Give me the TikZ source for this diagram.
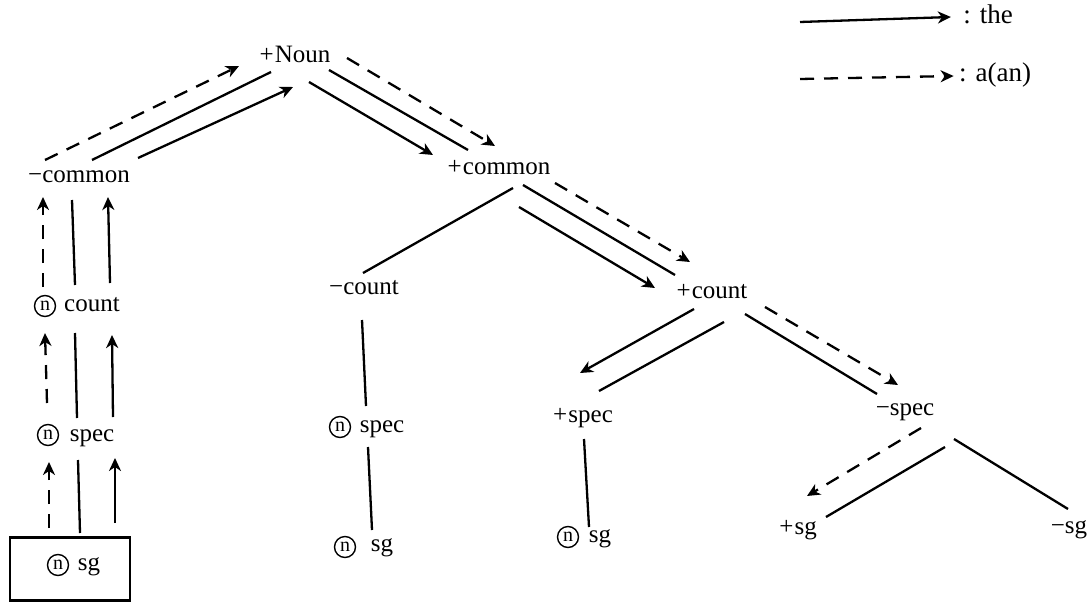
\documentclass[tikz,border=0pt]{standalone}
\usepackage{fontspec}
\setmainfont{Liberation Serif}
\usetikzlibrary{arrows.meta}
\tikzset{
  lab/.style={inner sep=1pt, text height=8.5pt, text depth=2.5pt, font=\fontsize{12.5}{14}\selectfont},
  leglab/.style={lab, font=\fontsize{13.5}{15}\selectfont},
  cn/.style={circle, draw, line width=0.7pt, inner sep=0pt, minimum size=10.5pt, font=\fontsize{10}{10}\selectfont},
  tie/.style={line width=1.15pt},
  the/.style={tie, -{Stealth[length=6.5pt,width=6pt,inset=2pt]}},
  aan/.style={the, dash pattern=on 7pt off 5pt},
  boxed/.style={draw, line width=1.1pt, minimum width=60pt, minimum height=31.5pt, inner sep=0pt}
}
\begin{document}
\begin{tikzpicture}[x=0.5pt,y=-0.5pt]
\useasboundingbox (0,0) rectangle (1090,604);
% tree labels
\node[lab] (N)  at (295,57)  {+\kern0.6pt Noun};
\node[lab] (L)  at (79,177)  {−common};
\node[lab] (P)  at (499,169) {+\kern0.6pt common};
\node[lab] (M)  at (364,288) {−count};
\node[lab] (C)  at (712,292) {+\kern0.6pt count};
\node[lab] (LC) at (92,305)  {count};
\node[cn]  (lc0) at (45,306) {n};
\node[lab] (LS) at (92,435)  {spec};
\node[cn]  (ls0) at (48,435) {n};
\node[boxed] (B) at (70,569) {};
\node[lab] (LG) at (89,564)  {sg};
\node[cn]  (lg0) at (58,565) {n};
\node[lab] (MS) at (382,426) {spec};
\node[cn]  (ms0) at (340,427) {n};
\node[lab] (MG) at (382,545) {sg};
\node[cn]  (mg0) at (345,547) {n};
\node[lab] (PS) at (583,416) {+\kern0.6pt spec};
\node[lab] (PG) at (600,536) {sg};
\node[cn]  (pg0) at (568,537) {n};
\node[lab] (RS) at (905,409) {−spec};
\node[lab] (RP) at (798,528) {+\kern0.6pt sg};
\node[lab] (RM) at (1069,527) {−sg};
% legend
\node[leglab] (leg1) at (988,18) {: the};
\node[leglab] (leg2) at (995,76) {: a(an)};
\coordinate (s1) at (800,22);
\coordinate (s2) at (800,79);
\draw[the] (s1) -- ([shift={(-10,-1)}]leg1.west);
\draw[aan] (s2) -- ([shift={(-3,0)}]leg2.west);
% -common <-> +Noun
\draw[aan] ([shift={(-34,-17)}]L.center) -- ([shift={(-56,9)}]N.center);
\draw[tie] ([shift={(13,-17)}]L.center) -- ([shift={(-24,15)}]N.center);
\draw[the] ([shift={(59,-19)}]L.center) -- ([shift={(-2,30)}]N.center);
% +Noun -> +common
\draw[the] ([shift={(14,25)}]N.center) -- ([shift={(-66,-14)}]P.center);
\draw[tie] ([shift={(34,13)}]N.center) -- ([shift={(-31,-19)}]P.center);
\draw[aan] ([shift={(52,1)}]N.center) -- ([shift={(-4,-23)}]P.center);
% +common
\draw[tie] ([shift={(14,19)}]P.center) -- ([shift={(-1,-15)}]M.center);
\draw[tie] ([shift={(24,16)}]P.center) -- ([shift={(-37,-17)}]C.center);
\draw[the] ([shift={(20,38)}]P.center) -- ([shift={(-57,-4)}]C.center);
\draw[aan] ([shift={(56,14)}]P.center) -- ([shift={(-22,-30)}]C.center);
% +count
\draw[the] ([shift={(-18,17)}]C.center) -- ([shift={(-3,-43)}]PS.center);
\draw[tie] ([shift={(12,30)}]C.center) -- ([shift={(16,-25)}]PS.center);
\draw[tie] ([shift={(33,22)}]C.center) -- ([shift={(-28,-15)}]RS.center);
\draw[aan] ([shift={(53,15)}]C.center) -- ([shift={(-7,-24)}]RS.center);
% +spec, -spec
\draw[tie] ([shift={(1,23)}]PS.center) -- ([shift={(-11,-9)}]PG.center);
\draw[aan] ([shift={(16,19)}]RS.center) -- ([shift={(9,-32)}]RP.center);
\draw[tie] ([shift={(40,38)}]RS.center) -- ([shift={(28,-11)}]RP.center);
\draw[tie] ([shift={(49,30)}]RS.center) -- ([shift={(-1,-18)}]RM.center);
% -count column
\draw[tie] ([shift={(-2,32)}]M.center) -- ([shift={(-16,-20)}]MS.center);
\draw[tie] ([shift={(-14,21)}]MS.center) -- ([shift={(-10,-15)}]MG.center);
% left column
\draw[aan] ([shift={(-49,-18)}]LC.center) -- ([shift={(-36,20)}]L.center);
\draw[tie] ([shift={(-17,-20)}]LC.center) -- ([shift={(-7,23)}]L.center);
\draw[the] ([shift={(18,-22)}]LC.center) -- ([shift={(29,20)}]L.center);
\draw[aan] ([shift={(-45,-32)}]LS.center) -- ([shift={(-47,28)}]LC.center);
\draw[tie] ([shift={(-15,-17)}]LS.center) -- ([shift={(-17,28)}]LC.center);
\draw[the] ([shift={(21,-18)}]LS.center) -- ([shift={(20,30)}]LC.center);
\draw[aan] ([shift={(-21,-41)}]B.center) -- ([shift={(-43,27)}]LS.center);
\draw[tie] ([shift={(10,-36)}]B.center) -- ([shift={(-14,25)}]LS.center);
\draw[the] ([shift={(45,-46)}]B.center) -- ([shift={(23,23)}]LS.center);
\end{tikzpicture}
\end{document}
